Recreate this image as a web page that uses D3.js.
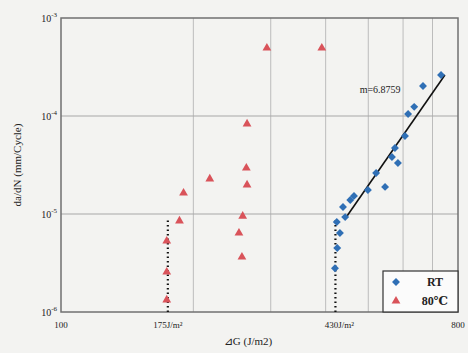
<!DOCTYPE html>
<html>
<head>
<meta charset="utf-8">
<script src="https://cdn.jsdelivr.net/npm/d3@7"></script>
<style>
  body { margin: 0; background: #f3f3f1; }
  svg { display: block; font-family: "Liberation Serif", "DejaVu Serif", serif; }
</style>
</head>
<body>
<div id="chart"></div>
<script>
// RT series (diamonds): dG (J/m2), da/dN (mm/cycle)
const rtG = [420, 425, 431, 424, 443, 438, 455, 464, 499, 521, 546, 566, 575, 584, 606, 616, 636, 666, 732];
const rtRate = [2.8e-6, 4.5e-6, 6.4e-6, 8.3e-6, 9.3e-6, 1.18e-5, 1.39e-5, 1.53e-5, 1.76e-5, 2.62e-5, 1.89e-5,
  3.82e-5, 4.71e-5, 3.31e-5, 6.25e-5, 1.05e-4, 1.24e-4, 2.02e-4, 2.62e-4];

// 80°C series (triangles)
const hotG = [294, 392, 265, 264, 218, 265, 190, 259, 186, 254, 174, 258, 174, 174];
const hotRate = [4.94e-4, 4.94e-4, 8.3e-5, 2.95e-5, 2.28e-5, 1.98e-5, 1.64e-5, 9.5e-6, 8.5e-6, 6.4e-6, 5.3e-6,
  3.64e-6, 2.56e-6, 1.33e-6];

// fitted line for RT, slope label
const fitG = [447, 747];
const fitRate = [9.5e-6, 2.62e-4];
const fitLabel = "m=6.8759";
const fitLabelAt = [532, 1.89e-4];

// thresholds (dotted verticals), as drawn under the lowest points
const thresholdG = [175, 421];
const thresholdTop = 9e-6;

const xTicks = [100, 175, 430, 800];
const xTickLabels = ["100", "175J/m²", "430J/m²", "800"];
const xGrid = [200, 300, 400, 500, 600, 700];
const yTicks = [1e-6, 1e-5, 1e-4, 1e-3];
const yExp = ["-6", "-5", "-4", "-3"];

const W = 468, H = 353;
const margin = { top: 18, right: 10, bottom: 41, left: 61 };

const svg = d3.select('#chart').append('svg').attr('width', W).attr('height', H);

const x = d3.scaleLog().domain([100, 800]).range([margin.left, W - margin.right]);
const y = d3.scaleLog().domain([1e-6, 1e-3]).range([H - margin.bottom, margin.top]);

// grid
svg.append('g').selectAll('line').data(xGrid).join('line')
  .attr('x1', d => x(d)).attr('x2', d => x(d))
  .attr('y1', y(1e-3)).attr('y2', y(1e-6))
  .attr('stroke', '#bcbcbc').attr('stroke-width', 1);
svg.append('g').selectAll('line').data(yTicks.slice(1, 3)).join('line')
  .attr('x1', x(100)).attr('x2', x(800))
  .attr('y1', d => y(d)).attr('y2', d => y(d))
  .attr('stroke', '#a8a8a8').attr('stroke-width', 1.2);

// frame
svg.append('rect')
  .attr('x', x(100)).attr('y', y(1e-3))
  .attr('width', x(800) - x(100)).attr('height', y(1e-6) - y(1e-3))
  .attr('fill', 'none').attr('stroke', '#707070').attr('stroke-width', 1.5);

// y tick labels
const yl = svg.append('g').selectAll('text').data(yTicks).join('text')
  .attr('x', margin.left - 4).attr('y', d => y(d) + 4)
  .attr('text-anchor', 'end').attr('font-size', 10).attr('fill', '#222');
yl.append('tspan').text('10');
yl.append('tspan').attr('dy', -5).attr('font-size', 7).text((d, i) => yExp[i]);

// x tick labels
svg.append('g').selectAll('text').data(xTicks).join('text')
  .attr('x', d => x(d)).attr('y', H - margin.bottom + 16)
  .attr('text-anchor', 'middle').attr('font-size', 9).attr('fill', '#222')
  .text((d, i) => xTickLabels[i]);

// axis titles
svg.append('text')
  .attr('x', 248).attr('y', H - 8)
  .attr('text-anchor', 'middle').attr('font-size', 11).attr('fill', '#222')
  .text('⊿G (J/m2)');
svg.append('text')
  .attr('transform', `translate(21,${(margin.top + H - margin.bottom) / 2}) rotate(-90)`)
  .attr('text-anchor', 'middle').attr('font-size', 11).attr('fill', '#222')
  .text('da/dN (mm/Cycle)');

// dotted threshold lines
svg.append('g').selectAll('line').data(thresholdG).join('line')
  .attr('x1', d => x(d)).attr('x2', d => x(d))
  .attr('y1', y(1e-6)).attr('y2', y(thresholdTop))
  .attr('stroke', '#111').attr('stroke-width', 2.2)
  .attr('stroke-dasharray', '1.5,3');

// fit line
svg.append('line')
  .attr('x1', x(fitG[0])).attr('y1', y(fitRate[0]))
  .attr('x2', x(fitG[1])).attr('y2', y(fitRate[1]))
  .attr('stroke', '#111').attr('stroke-width', 1.6);

svg.append('text')
  .attr('x', x(fitLabelAt[0])).attr('y', y(fitLabelAt[1]) + 4)
  .attr('text-anchor', 'middle').attr('font-size', 10).attr('fill', '#222')
  .text(fitLabel);

const diamond = d3.symbol().type(d3.symbolDiamond2).size(40);
const triangle = d3.symbol().type(d3.symbolTriangle2).size(55);
const blue = '#2f6fb5', red = '#d9535a';

svg.append('g').selectAll('path').data(hotG).join('path')
  .attr('transform', (d, i) => `translate(${x(d)},${y(hotRate[i])})`)
  .attr('d', triangle).attr('fill', red);

svg.append('g').selectAll('path').data(rtG).join('path')
  .attr('transform', (d, i) => `translate(${x(d)},${y(rtRate[i])})`)
  .attr('d', diamond).attr('fill', blue);

// legend
const lg = svg.append('g').attr('transform', 'translate(383,271)');
lg.append('rect').attr('width', 75).attr('height', 41)
  .attr('fill', '#fbfbfb').attr('stroke', '#333').attr('stroke-width', 1.2);
lg.append('path').attr('transform', 'translate(13,11)').attr('d', diamond).attr('fill', blue);
lg.append('path').attr('transform', 'translate(13,30)').attr('d', triangle).attr('fill', red);
lg.append('text').attr('x', 52).attr('y', 15).attr('text-anchor', 'middle')
  .attr('font-size', 12).attr('font-weight', 'bold').attr('fill', '#222').text('RT');
lg.append('text').attr('x', 52).attr('y', 34).attr('text-anchor', 'middle')
  .attr('font-size', 12).attr('font-weight', 'bold').attr('fill', '#222').text('80℃');
</script>
</body>
</html>
